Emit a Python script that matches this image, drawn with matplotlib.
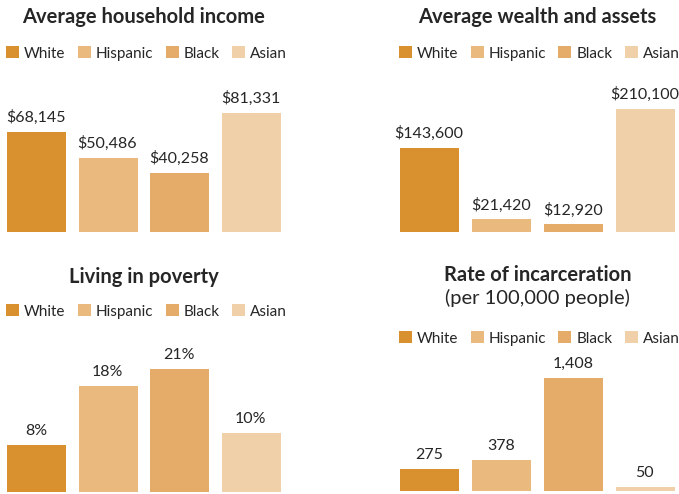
import matplotlib.pyplot as plt
from matplotlib.patches import Patch

plt.rcParams['font.family'] = ['Lato', 'DejaVu Sans']

groups = ['White', 'Hispanic', 'Black', 'Asian']
colors = ['#D9902E', '#EAB97E', '#E4AC68', '#F0D0A8']

income = [68145, 50486, 40258, 81331]
wealth = [143600, 21420, 12920, 210100]
poverty = [8, 18, 21, 10]
incarceration = [275, 378, 1408, 50]

W, H = 679, 494
text_color = '#262626'

fig = plt.figure(figsize=(W / 100, H / 100), dpi=100)


def px_box(left, top, right, bottom):
    return [left / W, 1 - bottom / H, (right - left) / W, (bottom - top) / H]


def panel(box, values, ymax, fmt, title, title_y, legend_y, subtitle=None):
    ax = fig.add_axes(px_box(*box))
    ax.bar(range(len(values)), values, width=0.82, color=colors)
    ax.set_xlim(-0.5, 3.5)
    ax.set_ylim(0, ymax)
    ax.set_axis_off()
    for i, v in enumerate(values):
        ax.annotate(fmt.format(v), (i, v), xytext=(-0.5, 7.2), textcoords='offset points',
                    ha='center', va='baseline', fontsize=11.5, color=text_color)

    cx = (box[0] + box[2]) / 2 / W
    fig.text(cx, 1 - title_y / H, title, ha='center', va='baseline',
             fontsize=14.5, fontweight='bold', color=text_color)
    if subtitle:
        fig.text(cx, 1 - (title_y + 23) / H, subtitle, ha='center', va='baseline',
                 fontsize=14.5, color=text_color)

    handles = [Patch(facecolor=c, edgecolor='none') for c in colors]
    ax.legend(handles, groups, ncol=4, loc='center left', frameon=False,
              bbox_to_anchor=((box[0] + 5.5) / W, 1 - legend_y / H),
              bbox_transform=fig.transFigure, fontsize=11,
              handlelength=0.85, handleheight=0.85, handletextpad=0.33,
              columnspacing=0.8, borderpad=0, borderaxespad=0, labelcolor=text_color)
    return ax


panel((0.7, 85.4, 287.3, 232), income, 100000, '${:,}',
      'Average household income', 23, 53.5)
panel((393.5, 85.6, 681.5, 232), wealth, 250000, '${:,}',
      'Average wealth and assets', 23, 53.5)
panel((0.7, 345.3, 287.3, 491.5), poverty, 25, '{}%',
      'Living in poverty', 283, 311.5)
panel((393.5, 346.5, 681.5, 490.5), incarceration, 1800, '{:,}',
      'Rate of incarceration', 281, 338.5, subtitle='(per 100,000 people)')

fig.savefig('out.png', dpi=100)
